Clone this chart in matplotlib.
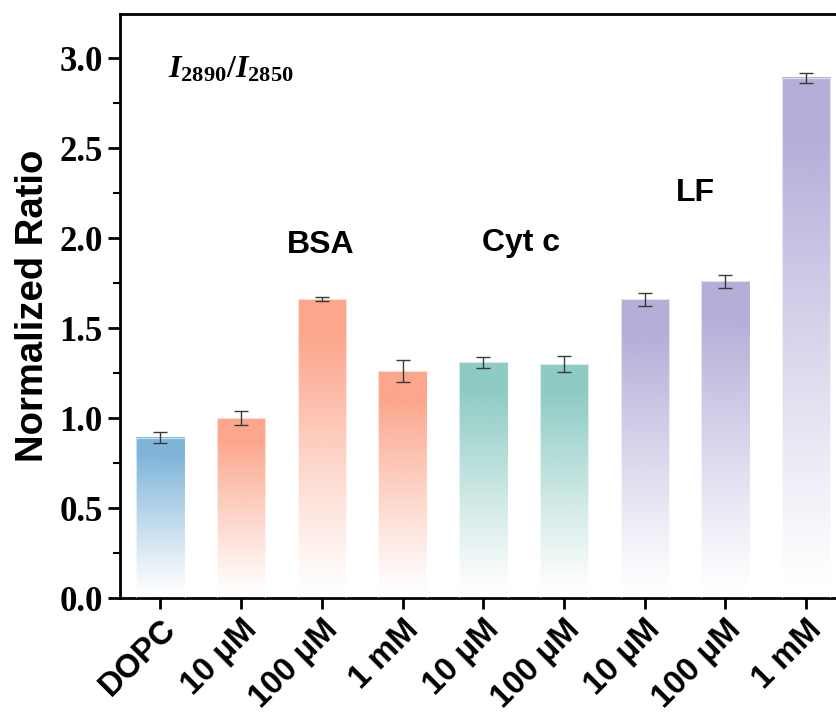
import numpy as np
from matplotlib import pyplot as plt
from matplotlib.colors import to_rgb
from matplotlib.ticker import MultipleLocator

plt.rcParams['mathtext.fontset'] = 'custom'
plt.rcParams['mathtext.rm'] = 'Liberation Serif:bold'
plt.rcParams['mathtext.it'] = 'Liberation Serif:italic:bold'
plt.rcParams['mathtext.bf'] = 'Liberation Serif:bold'

labels = ['DOPC', '10 μM', '100 μM', '1 mM', '10 μM', '100 μM', '10 μM', '100 μM', '1 mM']
values = [0.89, 1.00, 1.66, 1.26, 1.31, 1.30, 1.66, 1.76, 2.89]
errors = [0.03, 0.04, 0.01, 0.06, 0.03, 0.045, 0.037, 0.035, 0.028]
colors = ['#80B5DA', '#FCA68C', '#FCA68C', '#FCA68C', '#8ECBC4', '#8ECBC4',
          '#B5AED9', '#B5AED9', '#B5AED9']
groups = ['BSA', 'Cyt c', 'LF']
group_pos = [(1.98, 1.96), (4.47, 1.97), (6.63, 2.25)]

fig = plt.figure(figsize=(8.37, 7.24), dpi=100)
ax = fig.add_axes([0.1434, 0.174, 0.868, 0.8066])

X = np.arange(len(values))
w = 0.6
for x, v, c in zip(X, values, colors):
    t = np.linspace(0, 1, 256)[:, None]
    alpha = np.clip((t - 0.02) / 0.86, 0, 1) ** 1.1
    img = np.zeros((256, 1, 4))
    img[:, :, :3] = to_rgb(c)
    img[:, :, 3] = alpha
    ax.imshow(img, extent=[x - w / 2, x + w / 2, 0, v], origin='lower',
              aspect='auto', zorder=2, interpolation='bilinear')
    ax.add_patch(plt.Rectangle((x - w / 2, 0), w, v, fill=False,
                               edgecolor='white', linewidth=0.8, alpha=0.6, zorder=3))

ax.errorbar(X, values, yerr=errors, fmt='none', ecolor='#3a3a3a', elinewidth=1.0,
            capsize=5, capthick=1.0, zorder=4)

ax.set_xlim(-0.5, 8.5)
ax.set_ylim(0, 3.245)

for name, (gx, gy) in zip(groups, group_pos):
    ax.text(gx, gy, name, ha='center', va='center', fontsize=23,
            fontweight='bold', family='Liberation Sans')
ax.text(0.1, 2.94, r'$I_{2890}/I_{2850}$', fontsize=23, ha='left', va='center')

ax.set_xticks(X)
ax.set_xticklabels(labels, rotation=45, ha='right', rotation_mode='anchor',
                   fontsize=23.5, fontweight='bold', family='Liberation Sans')
ax.yaxis.set_major_locator(MultipleLocator(0.5))
ax.yaxis.set_minor_locator(MultipleLocator(0.25))
ax.set_yticks(np.arange(0, 3.01, 0.5))
ax.set_yticklabels([f'{v:.1f}' for v in np.arange(0, 3.01, 0.5)],
                   fontsize=25, fontweight='bold', family='Liberation Serif')
ax.tick_params(axis='y', which='major', length=9, width=2, direction='out')
ax.tick_params(axis='y', which='minor', length=5, width=1.5, direction='out')
ax.tick_params(axis='x', which='major', length=8, width=2, direction='out')
for s in ax.spines.values():
    s.set_linewidth(2)

ax.set_ylabel('Normalized Ratio', fontsize=27.5, fontweight='bold', family='Liberation Sans',
              labelpad=6)

plt.savefig('out.png', dpi=100)
